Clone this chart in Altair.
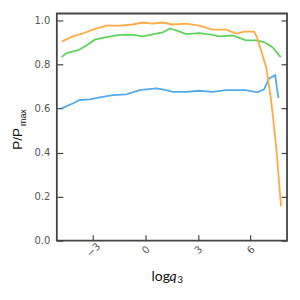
import altair as alt
import pandas as pd

# Data
orange_x = [-4.78, -4.15, -3.59, -3.02, -2.22, -1.48, -0.74, -0.17, 0.40, 0.97, 1.54, 2.33, 3.07, 3.81, 4.61, 5.18, 5.63, 6.20, 6.37, 6.89, 7.17, 7.46, 7.74]
orange_y = [0.905, 0.928, 0.941, 0.959, 0.977, 0.977, 0.982, 0.991, 0.986, 0.991, 0.982, 0.986, 0.977, 0.959, 0.959, 0.941, 0.950, 0.950, 0.923, 0.788, 0.639, 0.427, 0.156]

green_x = [-4.80, -4.51, -3.85, -3.38, -2.90, -2.24, -1.48, -0.72, -0.15, 0.61, 0.99, 1.37, 1.75, 2.32, 3.07, 3.83, 4.21, 4.97, 5.73, 6.30, 6.77, 7.25, 7.72]
green_y = [0.834, 0.852, 0.865, 0.887, 0.913, 0.925, 0.935, 0.935, 0.928, 0.940, 0.946, 0.964, 0.955, 0.938, 0.943, 0.935, 0.928, 0.932, 0.910, 0.910, 0.902, 0.879, 0.834]

blue_x = [-4.80, -4.13, -3.76, -3.19, -2.62, -1.86, -1.10, -0.34, 0.61, 1.18, 1.56, 2.32, 3.07, 3.83, 4.59, 5.73, 6.39, 6.77, 7.06, 7.40, 7.59]
blue_y = [0.601, 0.624, 0.639, 0.642, 0.651, 0.661, 0.665, 0.684, 0.692, 0.684, 0.676, 0.676, 0.681, 0.676, 0.684, 0.684, 0.674, 0.688, 0.737, 0.752, 0.647]

series_names = ["blue", "green", "orange"]
series_colors = ["#55aaee", "#5fd35f", "#ffaa44"]
x_ticks = [-3, 0, 3, 6]
y_ticks = [0.0, 0.2, 0.4, 0.6, 0.8, 1.0]

rows = []
for name, xs, ys in [("blue", blue_x, blue_y), ("green", green_x, green_y), ("orange", orange_x, orange_y)]:
    for i, (a, b) in enumerate(zip(xs, ys)):
        rows.append({"series": name, "x": a, "y": b, "i": i})
df = pd.DataFrame(rows)

xscale = alt.Scale(domain=[-5.07, 8.08], nice=False, zero=False)
yscale = alt.Scale(domain=[0, 1.032], nice=False, zero=False)

tick_color = "#444444"
label_color = "#555555"

x_axis = alt.Axis(
    values=x_ticks, offset=-6, tickSize=6, domain=False, grid=False,
    labelAngle=-45, labelAlign="center", labelBaseline="middle", labelPadding=9,
    title=None, tickColor=tick_color, tickWidth=1.2, labelColor=label_color,
    labelFont="DejaVu Sans", labelFontSize=10)

lines = alt.Chart(df).mark_line(strokeWidth=1.8).encode(
    x=alt.X("x:Q", scale=xscale, axis=x_axis),
    y=alt.Y("y:Q", scale=yscale, axis=alt.Axis(
        values=y_ticks, format=".1f", offset=-6, tickSize=6, domain=False, grid=False,
        labelPadding=7, title=None, tickColor=tick_color, tickWidth=1.2,
        labelColor=label_color, labelFont="DejaVu Sans", labelFontSize=10)),
    color=alt.Color("series:N", scale=alt.Scale(domain=series_names, range=series_colors), legend=None),
    detail="series:N",
    order="i:Q",
)

right_axis = alt.Chart(df).mark_point(opacity=0).encode(
    x=alt.X("x:Q", scale=xscale, axis=x_axis),
    y=alt.Y("y:Q", scale=yscale, axis=alt.Axis(
        orient="right", values=y_ticks, offset=-6, tickSize=6, domain=False, grid=False,
        labels=False, title=None, tickColor=tick_color, tickWidth=1.2)),
)

lab_df = pd.DataFrame({"k": [0]})
t_pp = alt.Chart(lab_df).mark_text(angle=270, align="right", baseline="middle",
                                   font="Liberation Sans", fontSize=13.5, color="#111111").encode(
    x=alt.value(-39), y=alt.value(115), text=alt.value("P/P"))
t_max = alt.Chart(lab_df).mark_text(angle=270, align="left", baseline="middle",
                                    font="Liberation Sans", fontSize=9, color="#111111").encode(
    x=alt.value(-33.5), y=alt.value(113), text=alt.value("max"))
t_log = alt.Chart(lab_df).mark_text(align="left", baseline="alphabetic",
                                    font="Lato", fontSize=14, color="#111111").encode(
    x=alt.value(95), y=alt.value(268), text=alt.value("log"))
t_q = alt.Chart(lab_df).mark_text(align="left", baseline="alphabetic", fontStyle="italic",
                                  font="Lato", fontSize=14, color="#111111").encode(
    x=alt.value(113), y=alt.value(268), text=alt.value("q"))
t_3 = alt.Chart(lab_df).mark_text(align="left", baseline="alphabetic",
                                  font="Lato", fontSize=9.5, color="#111111").encode(
    x=alt.value(121), y=alt.value(270.5), text=alt.value("3"))

chart = alt.layer(lines, right_axis, t_pp, t_max, t_log, t_q, t_3).resolve_axis(
    y="independent"
).properties(
    width=231, height=228,
    autosize=alt.AutoSizeParams(type="none"),
    padding={"left": 49, "top": 5, "right": 5, "bottom": 50},
).configure_view(stroke="#444444", strokeWidth=1.8)

chart.save("out.html", embed_options={"renderer": "svg", "actions": False})
